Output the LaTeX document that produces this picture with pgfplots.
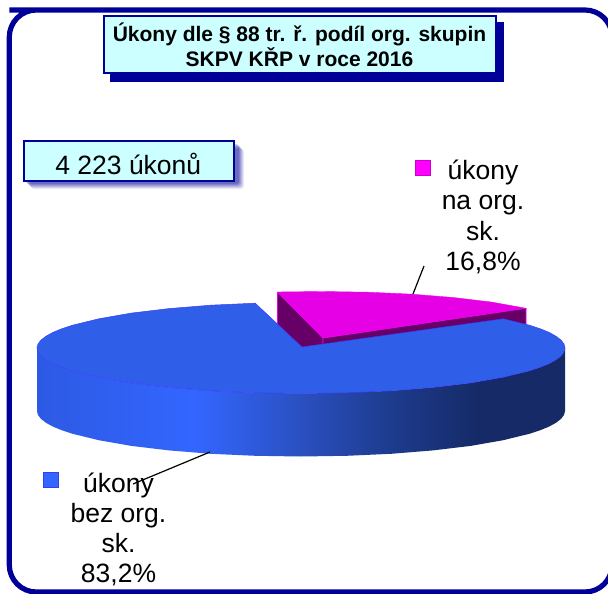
\documentclass[border=0pt]{standalone}
\usepackage{fontspec}
\setmainfont{Liberation Sans}
\usepackage{pgfplots}
\pgfplotsset{compat=1.18}
\definecolor{framec}{HTML}{000099}
\definecolor{boxc}{HTML}{CCFFFF}
\definecolor{topb}{HTML}{2F5FE8}
\definecolor{edgeb}{HTML}{3A3AFF}
\definecolor{mag}{HTML}{E600E6}
\definecolor{keym}{HTML}{FF00FF}
\definecolor{pur}{HTML}{660066}
\definecolor{keyb}{HTML}{3366FF}
\definecolor{wa}{HTML}{2D5AE4}
\definecolor{wb}{HTML}{3366FF}
\definecolor{wc}{HTML}{2A50C0}
\definecolor{wd}{HTML}{1E3C90}
\definecolor{we}{HTML}{152A66}
\pgfdeclarehorizontalshading{wall}{100bp}{
 color(0bp)=(wa);
 color(25bp)=(wa);
 color(40bp)=(wb);
 color(50bp)=(wc);
 color(58bp)=(wd);
 color(67bp)=(we);
 color(100bp)=(we)}
\begin{document}
\begin{tikzpicture}
\begin{axis}[
 scale only axis, width=608pt, height=594pt,
 xmin=0, xmax=608, ymin=0, ymax=594, y dir=reverse,
 axis lines=none, clip=true,
]
% page extent
\addplot[draw=none, forget plot] coordinates {(0,0) (608,0) (608,594) (0,594) (0,0)};
% frame
\addplot[draw=framec, line width=5.2pt, forget plot, rounded corners=27pt] coordinates {(9.3,10) (612,10) (612,592) (9.3,592) (9.3,10) (60,10)};
% magenta slice walls
\addplot[draw=mag, line width=0.6pt, fill=pur, forget plot] coordinates {(277.5,292) (323,338) (323,399) (277.5,353) (277.5,292)};
\addplot[draw=mag, line width=0.6pt, fill=pur, forget plot] coordinates {(323,338) (526,308.3) (526,369) (323,399) (323,338)};
% magenta slice top
\addplot[draw=mag, line width=0.4pt, fill=mag, forget plot] coordinates {(323,338) (277.5,292) (322,291.5) (367.8,292.2) (412.3,294.2) (454,297.6) (491.7,302.1) (526,308.3) (323,338)};
% blue side wall
\addplot[draw=none, shading=wall, forget plot] coordinates {
(37,348) (38,352) (41,355.9) (46,359.8) (52.9,363.6) (61.7,367.2) (72.4,370.75) (98.8,377.2) (131.3,382.9) (169,387.4) (210.7,390.8) (255.2,392.8) (301,393.5) (346.8,392.8) (391.3,390.8) (433,387.4) (470.7,382.9) (503.2,377.2) (529.6,370.75) (540.3,367.2) (549.1,363.6) (556,359.8) (561,355.9) (564,352) (565,348)
(565,411) (564,415) (561,418.9) (556,422.8) (549.1,426.6) (540.3,430.2) (529.6,433.75) (503.2,440.2) (470.7,445.9) (433,450.4) (391.3,453.8) (346.8,455.8) (301,456.5) (255.2,455.8) (210.7,453.8) (169,450.4) (131.3,445.9) (98.8,440.2) (72.4,433.75) (61.7,430.2) (52.9,426.6) (46,422.8) (41,418.9) (38,415) (37,411) (37,348)};
% blue top
\addplot[draw=edgeb, line width=0.5pt, fill=topb, forget plot] coordinates {
(302,347) (255.2,303.2) (210.7,305.2) (169,308.6) (131.3,313.1) (98.8,318.8) (72.4,325.25) (61.7,328.8) (52.9,332.4) (46,336.2) (41,340.1) (38,344) (37,348)
(38,352) (41,355.9) (46,359.8) (52.9,363.6) (61.7,367.2) (72.4,370.75) (98.8,377.2) (131.3,382.9) (169,387.4) (210.7,390.8) (255.2,392.8) (301,393.5) (346.8,392.8) (391.3,390.8) (433,387.4) (470.7,382.9) (503.2,377.2) (529.6,370.75) (540.3,367.2) (549.1,363.6) (556,359.8) (561,355.9) (564,352) (565,348)
(564,344) (561,340.1) (556,336.2) (549.1,332.4) (540.3,328.8) (529.6,325.25) (503.2,318.8) (302,347)};
% leader lines
\addplot[draw=black, line width=1.2pt, forget plot] coordinates {(413,294) (424,266)};
\addplot[draw=black, line width=1.2pt, forget plot] coordinates {(210,452) (133,484)};
% legend keys
\addplot[only marks, mark=square*, mark size=7.5pt, mark options={fill=keym, draw=keym!80!black, rounded corners=1pt}, forget plot] coordinates {(422.5,167.5)};
\addplot[only marks, mark=square*, mark size=7.5pt, mark options={fill=keyb, draw=edgeb, rounded corners=1pt}, forget plot] coordinates {(51,480)};
% title box
\fill[framec] (axis cs:110,22) rectangle (axis cs:504,82.5);
\draw[framec, line width=2pt, fill=boxc] (axis cs:104.3,16) rectangle (axis cs:496,73);
\node[align=center, font=\fontsize{21}{25.5}\selectfont\bfseries, inner sep=0pt] at (axis cs:299.5,45) {Úkony dle § 88 tr. ř. podíl org. skupin\\SKPV KŘP v roce 2016};
% count box
\fill[framec, opacity=0.08, rounded corners=3pt] (axis cs:31,149) rectangle (axis cs:244,189);
\fill[framec, opacity=0.10, rounded corners=3pt] (axis cs:30,148) rectangle (axis cs:243,188);
\fill[framec, opacity=0.12, rounded corners=3pt] (axis cs:29,147) rectangle (axis cs:242,187);
\fill[framec, opacity=0.14, rounded corners=3pt] (axis cs:28,146) rectangle (axis cs:241,186);
\fill[framec, opacity=0.16, rounded corners=3pt] (axis cs:27,145) rectangle (axis cs:240,185);
\fill[framec, opacity=0.20, rounded corners=3pt] (axis cs:26,144) rectangle (axis cs:239,184);
\draw[framec, line width=2pt, fill=boxc] (axis cs:23.7,141) rectangle (axis cs:234.3,180.7);
\node[font=\fontsize{26.5}{30}\selectfont, inner sep=0pt] at (axis cs:128.3,164) {4 223 úkonů};
% labels
\node[align=center, font=\fontsize{26.5}{30.5}\selectfont, inner sep=0pt, anchor=north] at (axis cs:483,159.5) {úkony\\na org.\\sk.\\16,8\%};
\node[align=center, font=\fontsize{26.5}{30}\selectfont, inner sep=0pt, anchor=north] at (axis cs:118.5,472.5) {úkony\\bez org.\\sk.\\83,2\%};
\end{axis}
\end{tikzpicture}
\end{document}
